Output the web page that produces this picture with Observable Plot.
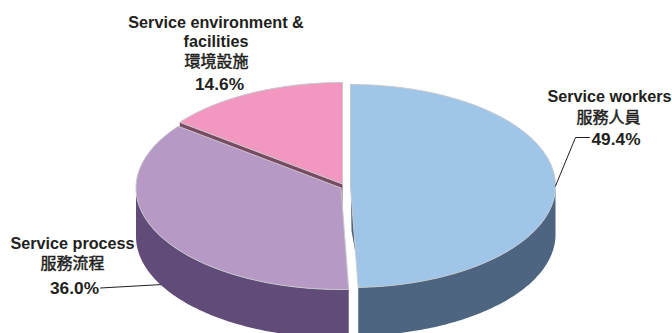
<!DOCTYPE html>
<html>
<head>
<meta charset="utf-8">
<script src="https://cdn.jsdelivr.net/npm/d3@7"></script>
<script src="https://cdn.jsdelivr.net/npm/@observablehq/plot@0.6"></script>
<style>
  html, body { margin: 0; padding: 0; background: #fff; overflow: hidden; }
  svg { display: block; }
</style>
</head>
<body>
<div id="chart"></div>
<script>
// Survey shares, clockwise from twelve o'clock
const categories = ["Service workers", "Service process", "Service environment & facilities"];
const categoriesZh = ["服務人員", "服務流程", "環境設施"];
const shares = [49.4, 36.0, 14.6];

// Slice colours: top face, wall
const topColors = ["#9fc5e9", "#b799c6", "#f297bf"];
const wallColors = ["#4d6580", "#604b79", "#7a4a63"];
const rimColor = "#c6c9cc";
const inkColor = "#231f20";

// Pie geometry in pixel units: ellipse radii, extrusion and each exploded slice's centre
const W = 672, H = 333;
const rx = 205, ry = 101.5, depth = 48.5;
const centres = [[350, 185.5], [340.5, 187.5], [342, 183.5]];

const total = d3.sum(shares);
let running = 0;
const slices = shares.map((v, i) => {
  const a0 = running / total * 2 * Math.PI;
  running += v;
  return {i, a0, a1: running / total * 2 * Math.PI, cx: centres[i][0], cy: centres[i][1]};
});

const rim = (s, a, drop = 0) => ({
  x: s.cx + rx * Math.sin(a),
  y: s.cy - ry * Math.cos(a) + drop
});
const arc = (s, from, to, drop = 0) => {
  const n = Math.max(2, Math.ceil(Math.abs(to - from) * 60));
  return d3.range(n + 1).map(k => rim(s, from + (to - from) * k / n, drop));
};

// Closed top face of a slice
const topFace = s => {
  const apex = {x: s.cx, y: s.cy};
  return [apex, ...arc(s, s.a0, s.a1), apex];
};

// Outer wall: the part of the rim that faces the viewer, pushed down by the depth
const outerWall = (s, from, to) => {
  const upper = arc(s, from, to);
  const lower = arc(s, to, from, depth);
  return [...upper, ...lower, upper[0]];
};

// Cut face running from the apex to a rim angle
const cutFace = (s, a) => {
  const p = rim(s, a);
  return [{x: s.cx, y: s.cy}, p, {x: p.x, y: p.y + depth}, {x: s.cx, y: s.cy + depth}, {x: s.cx, y: s.cy}];
};

// Thin sliver of the first slice's cut face left of its straight edge
const sliver = s => {
  const p = rim(s, s.a1);
  const along = t => ({x: s.cx + (p.x - s.cx) * t, y: s.cy + (p.y - s.cy) * t});
  const mid = along(0.44);
  return [along(0.05), {x: mid.x - 2.4, y: mid.y}, along(0.67), along(0.05)];
};

const [blue, purple, pink] = slices;
const wallPolys = [
  {pts: outerWall(blue, Math.PI / 2, blue.a1), fill: wallColors[0]},
  {pts: outerWall(purple, purple.a0, 1.5 * Math.PI), fill: wallColors[1]},
  {pts: cutFace(pink, pink.a0), fill: wallColors[2]},
  {pts: sliver(blue), fill: wallColors[0]}
];
const polyRows = list => list.flatMap((p, id) => p.pts.map(q => ({...q, id, fill: p.fill})));
const wallRows = polyRows(wallPolys);
const topRows = polyRows([pink, purple, blue].map(s => ({pts: topFace(s), fill: topColors[s.i]})));

// Text lines of each label, top to bottom
const pct = v => `${v.toFixed(1)}%`;
const nameRows = [
  {t: "Service environment &", x: 215.5, y: 22},
  {t: "facilities", x: 215.5, y: 41},
  {t: categories[0], x: 609, y: 96},
  {t: categories[1], x: 72, y: 243}
];
const zhRows = [
  {t: categoriesZh[2], x: 216, y: 61.5},
  {t: categoriesZh[0], x: 608, y: 117},
  {t: categoriesZh[1], x: 72, y: 263}
];
const pctRows = [
  {t: pct(shares[2]), x: 219, y: 84},
  {t: pct(shares[0]), x: 615.5, y: 139},
  {t: pct(shares[1]), x: 74, y: 288}
];

// Leader lines from the percentages to the slices
const leaderRows = [
  {id: 0, ...rim(blue, Math.PI / 2)},
  {id: 0, x: 575, y: 137},
  {id: 0, x: 589, y: 137},
  {id: 1, x: 100, y: 287.5},
  {id: 1, ...rim(purple, 1.5 * Math.PI - 0.494, depth)}
];

const textMark = (rows, font, weight, size, extra = {}) => Plot.text(rows, {
  x: "x", y: "y", text: "t",
  textAnchor: "middle", lineAnchor: "middle",
  fontFamily: font, fontWeight: weight, fontSize: size,
  fill: inkColor, ...extra
});
const latin = "'Liberation Sans', Arial, sans-serif";

const chart = Plot.plot({
  width: W, height: H,
  margin: 0,
  x: {domain: [0, W], range: [0, W], axis: null},
  y: {domain: [0, H], range: [0, H], axis: null},
  style: {background: "#fff"},
  marks: [
    Plot.line(wallRows, {x: "x", y: "y", z: "id", fill: "fill", stroke: null, curve: "linear", clip: true}),
    Plot.line(topRows, {x: "x", y: "y", z: "id", fill: "fill", stroke: rimColor, strokeWidth: 1, strokeLinejoin: "round", curve: "linear", clip: true}),
    Plot.line(leaderRows, {x: "x", y: "y", z: "id", stroke: inkColor, strokeWidth: 1, curve: "linear"}),
    textMark(nameRows, latin, 700, 16.2),
    textMark(pctRows, latin, 700, 17.3),
    textMark(zhRows, "'Noto Sans CJK TC', sans-serif", 400, 16, {stroke: inkColor, strokeWidth: 0.5})
  ]
});
document.getElementById("chart").append(chart);
</script>
</body>
</html>
